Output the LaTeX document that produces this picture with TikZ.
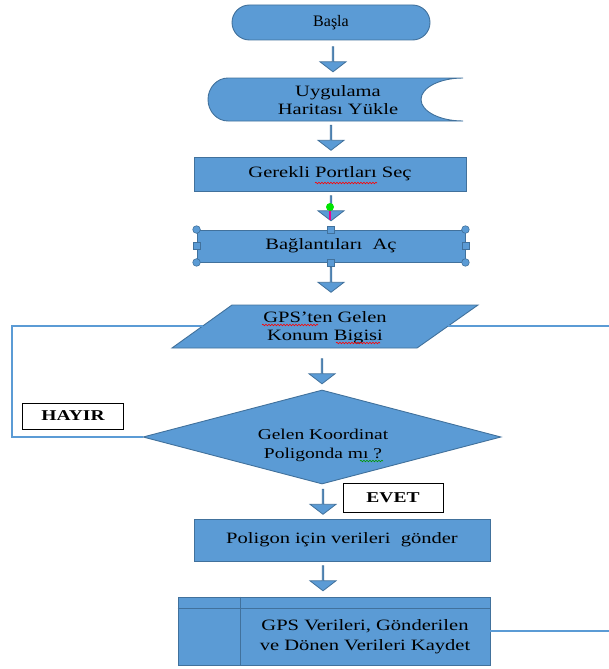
\documentclass[tikz,border=0pt]{standalone}
\usepackage{fontspec}
\setmainfont{Liberation Serif}
\newfontfamily\flowfont[FakeStretch=1.3]{Liberation Serif}
\newfontfamily\plainfont{Liberation Serif}
\usetikzlibrary{shapes.geometric,shapes.misc,shapes.arrows,decorations.pathmorphing}
\definecolor{boxblue}{HTML}{5B9BD5}
\definecolor{boxedge}{HTML}{41719C}

\begin{document}
\begin{tikzpicture}[x=1pt,y=1pt,
  every node/.style={font=\flowfont\fontsize{15.8}{18}\selectfont,align=center,inner sep=0pt,text=black},
  flowbox/.style={draw=boxedge,line width=0.9pt,fill=boxblue},
  downarrow/.style={single arrow,shape border rotate=270,draw=boxedge,line width=0.8pt,fill=boxblue,
    minimum width=26pt,minimum height=25pt,single arrow head extend=6.5pt,single arrow tip angle=105},
  answer/.style={draw=black,line width=1pt,fill=white,font=\flowfont\fontsize{15}{18}\selectfont\bfseries},
  loopline/.style={draw=boxblue,line width=1.4pt},
  handle/.style={fill=boxblue,draw=boxedge,line width=0.6pt},
  squiggle/.style={decorate,decoration={snake,amplitude=0.8pt,segment length=3pt},line width=0.6pt}]
\useasboundingbox (0,0) rectangle (609,-669);

% start
\node[flowbox,rounded rectangle,minimum width=198pt,minimum height=35pt,font=\plainfont\fontsize{16}{18}\selectfont] (basla) at (331,-22.5) {Başla};
\node[downarrow] (ok1) at (333,-59) {};

% map load (stored data)
\draw[flowbox] (463,-78) -- (228,-78) arc[start angle=90,end angle=270,x radius=20pt,y radius=21.5pt]
  -- (463,-121) arc[start angle=-90,end angle=-270,x radius=42pt,y radius=21.5pt] -- cycle;
\node (yukle) at (338,-100) {Uygulama\\Haritası Yükle};
\node[downarrow] (ok2) at (331,-137.5) {};

% ports
\node[flowbox,minimum width=272pt,minimum height=34pt] (port) at (330,-174) {Gerekli Portları Seç};
\draw[red,squiggle] (315,-183) -- (377,-183);
\node[downarrow] (ok3) at (331,-208) {};
\draw[magenta,line width=1.3pt] (330,-210) -- (330,-220);
\fill[green!90!black] (330,-207) circle (4pt);

% connections (selected)
\node[flowbox,minimum width=268pt,minimum height=32pt] (bag) at (331,-246) {Bağlantıları~ Aç};
\foreach \c in {north west,north east,south west,south east}
  \draw[handle] (bag.\c) circle (3.8pt);
\foreach \c in {north,south,west,east}
  \draw[handle] ([xshift=-3.5pt,yshift=-3.5pt]bag.\c) rectangle ++(7,7);
\node[downarrow] (ok4) at (331,-279.5) {};

% gps input
\draw[flowbox] (232,-305) -- (478,-305) -- (417,-348) -- (172,-348) -- cycle;
\coordinate (gpsL) at (203,-326);
\coordinate (gpsR) at (448,-326);
\node (gps) at (325,-328) {GPS’ten Gelen\\Konum Bigisi};
\draw[red,squiggle] (262,-325) -- (318,-325);
\draw[red,squiggle] (336,-343) -- (380,-343);
\node[downarrow] (ok5) at (322,-371) {};

% decision
\node[flowbox,diamond,minimum width=358pt,minimum height=94pt] (soru) at (322,-437) {};
\node[font=\flowfont\fontsize{15}{19}\selectfont] (sorutext) at (323,-445) {Gelen Koordinat\\Poligonda mı ?};
\draw[green!60!black,squiggle] (360,-461) -- (383,-461);
\node[answer,minimum width=101pt,minimum height=26pt] (hayir) at (73,-416) {HAYIR};
\node[downarrow] (ok6) at (323,-501.5) {};
\node[answer,minimum width=100pt,minimum height=29pt] (evet) at (393,-497.5) {EVET};

% send
\node[flowbox,minimum width=296pt,minimum height=42pt] (gonder) at (342,-540) {Poligon için verileri~ gönder};
\node[downarrow] (ok7) at (323,-578) {};

% save (internal storage)
\node[flowbox,minimum width=312pt,minimum height=68pt] (kaydet) at (334,-631) {};
\draw[boxedge,line width=0.9pt] ([xshift=63pt]kaydet.north west) -- ([xshift=63pt]kaydet.south west);
\draw[boxedge,line width=0.9pt] ([yshift=-12pt]kaydet.north west) -- ([yshift=-12pt]kaydet.north east);
\node[font=\flowfont\fontsize{15.8}{20}\selectfont] (kaydettext) at (365,-637) {GPS Verileri, Gönderilen\\ve Dönen Verileri Kaydet};

% loop lines
\draw[loopline] (gpsL) -- (12,-326) -- (12,-437) -- (soru.west);
\draw[loopline] (gpsR) -- (609,-326);
\draw[loopline] (kaydet.east) -- (609,-631);
\end{tikzpicture}
\end{document}
